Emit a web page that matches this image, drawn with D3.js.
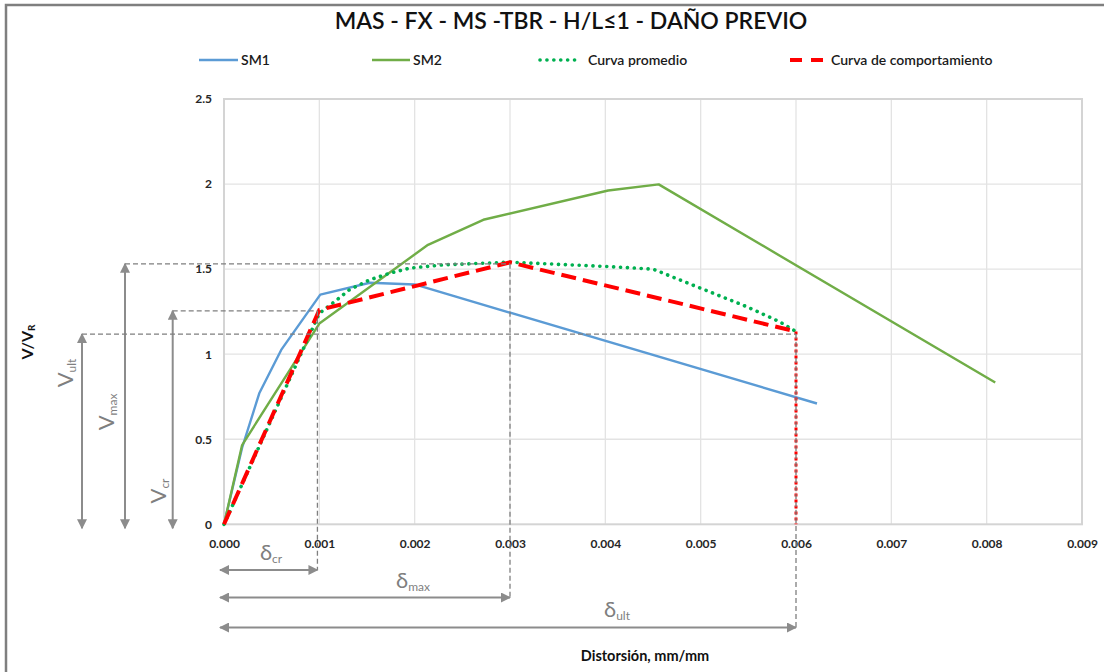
<!DOCTYPE html>
<html>
<head>
<meta charset="utf-8">
<script src="https://cdn.jsdelivr.net/npm/d3@7"></script>
<style>
  body { margin: 0; background: #fff; }
  svg { display: block; }
  text { font-family: Lato, "Noto Sans", sans-serif; }
</style>
</head>
<body>
<svg id="chart" width="1104" height="672"></svg>
<script>
// ---- data ----
const chartTitle = "MAS - FX - MS -TBR - H/L≤1 - DAÑO PREVIO";
const xAxisTitle = "Distorsión, mm/mm";
const seriesNames = ["SM1", "SM2", "Curva promedio", "Curva de comportamiento"];
const xTicks = [0, 0.001, 0.002, 0.003, 0.004, 0.005, 0.006, 0.007, 0.008, 0.009];
const yTicks = [0, 0.5, 1, 1.5, 2, 2.5];

const sm1X = [0, 0.00019, 0.00037, 0.0006, 0.00101, 0.00153, 0.002, 0.00622];
const sm1Y = [0, 0.45, 0.77, 1.025, 1.35, 1.42, 1.41, 0.71];

const sm2X = [0, 0.00019, 0.001, 0.00214, 0.00272, 0.00403, 0.00456, 0.00809];
const sm2Y = [0, 0.466, 1.18, 1.643, 1.79, 1.962, 1.998, 0.833];

const promX = [0, 0.001, 0.00114, 0.00132, 0.00153, 0.00174, 0.00195, 0.0023, 0.003, 0.00403, 0.0045, 0.00478, 0.00548, 0.00583, 0.006];
const promY = [0, 1.24, 1.30, 1.38, 1.437, 1.476, 1.506, 1.525, 1.541, 1.515, 1.50, 1.437, 1.28, 1.19, 1.133];

// behaviour curve: cracking, maximum, ultimate, then drop to zero
const compX = [0, 0.001, 0.003, 0.006, 0.006];
const compY = [0, 1.26, 1.54, 1.133, 0];

// reference levels marked with dimension arrows
const refNames = ["cr", "max", "ult"];
const refV = [1.255, 1.531, 1.118];
const refDelta = [0.00098, 0.003, 0.006];

// ---- layout ----
const svg = d3.select("#chart");
const W = 1104, H = 672;
const plot = { left: 224, right: 1082, top: 99, bottom: 524.3 };

const x = d3.scaleLinear().domain([0, 0.009]).range([plot.left, plot.right]);
const y = d3.scaleLinear().domain([0, 2.5]).range([plot.bottom, plot.top]);

const grey = "#7f7f7f";
const arrowGrey = "#8c8c8c";

svg.append("rect").attr("width", W).attr("height", H).attr("fill", "#fff");

// outer chart frame (runs off the right/bottom edge)
svg.append("rect")
  .attr("x", 6).attr("y", 5).attr("width", W + 20).attr("height", H + 20)
  .attr("fill", "none").attr("stroke", "#7f7f7f").attr("stroke-width", 2.5);

// arrow heads
const defs = svg.append("defs");
function marker(id, orient) {
  defs.append("marker")
    .attr("id", id).attr("viewBox", "0 0 10 10")
    .attr("refX", 9).attr("refY", 5)
    .attr("markerUnits", "userSpaceOnUse")
    .attr("markerWidth", 11).attr("markerHeight", 10)
    .attr("orient", orient)
    .append("path").attr("d", "M0,0 L10,5 L0,10 Z").attr("fill", arrowGrey);
}
marker("arrowEnd", "auto");
marker("arrowStart", "auto-start-reverse");

// ---- gridlines ----
const grid = svg.append("g");
grid.selectAll("line.vx").data(xTicks.slice(1, -1)).join("line")
  .attr("x1", d => x(d)).attr("x2", d => x(d))
  .attr("y1", plot.top).attr("y2", plot.bottom)
  .attr("stroke", "#e3e3e3").attr("stroke-width", 1.3);
grid.selectAll("line.hy").data(yTicks.slice(1, -1)).join("line")
  .attr("x1", plot.left).attr("x2", plot.right)
  .attr("y1", d => y(d)).attr("y2", d => y(d))
  .attr("stroke", "#e3e3e3").attr("stroke-width", 1.3);

// plot area border
svg.append("rect")
  .attr("x", plot.left).attr("y", plot.top)
  .attr("width", plot.right - plot.left).attr("height", plot.bottom - plot.top)
  .attr("fill", "none").attr("stroke", "#d4d4d4").attr("stroke-width", 2);

// ---- axes ----
const xAxis = svg.append("g")
  .attr("transform", `translate(0,${plot.bottom})`)
  .call(d3.axisBottom(x).tickValues(xTicks).tickFormat(d3.format(".3f")).tickSize(0).tickPadding(15));
const yAxis = svg.append("g")
  .attr("transform", `translate(${plot.left},0)`)
  .call(d3.axisLeft(y).tickValues(yTicks).tickFormat(d => String(d)).tickSize(0).tickPadding(12));
[xAxis, yAxis].forEach(a => {
  a.select(".domain").remove();
  a.selectAll("text")
    .style("font-family", "Lato, 'Noto Sans', sans-serif")
    .style("font-size", "12px").style("font-weight", "bold").attr("fill", "#262626");
});

// ---- series ----
const line = d3.line().x(d => x(d[0])).y(d => y(d[1]));
const zip = (xs, ys) => xs.map((v, i) => [v, ys[i]]);

svg.append("path").datum(zip(sm1X, sm1Y)).attr("d", line)
  .attr("fill", "none").attr("stroke", "#5b9bd5").attr("stroke-width", 2.4).attr("stroke-linejoin", "round");
svg.append("path").datum(zip(sm2X, sm2Y)).attr("d", line)
  .attr("fill", "none").attr("stroke", "#70ad47").attr("stroke-width", 2.4).attr("stroke-linejoin", "round");
svg.append("path").datum(zip(promX, promY)).attr("d", line)
  .attr("fill", "none").attr("stroke", "#00b050").attr("stroke-width", 3.6)
  .attr("stroke-dasharray", "0.1,6.8").attr("stroke-linecap", "round");

const comp = zip(compX, compY);
svg.append("path").datum(comp.slice(0, 4)).attr("d", line)
  .attr("fill", "none").attr("stroke", "#ff0000").attr("stroke-width", 4)
  .attr("stroke-dasharray", "15,7");
svg.append("path").datum(comp.slice(3)).attr("d", line)
  .attr("fill", "none").attr("stroke", "#ff0000").attr("stroke-width", 3)
  .attr("stroke-dasharray", "3,3");

// ---- dimension annotations ----
const ann = svg.append("g");
const vArrowX = [172.7, 125, 82];      // cr, max, ult
const hArrowY = [570, 597.5, 627.5];   // cr, max, ult
const arrowLeft = x(0) - 4;
const arrowBottom = y(0) + 4;

refNames.forEach((name, i) => {
  const yy = y(refV[i]);
  const xx = x(refDelta[i]);
  // horizontal reference at the level
  ann.append("line")
    .attr("x1", vArrowX[i]).attr("x2", xx).attr("y1", yy).attr("y2", yy)
    .attr("stroke", grey).attr("stroke-width", 1.3).attr("stroke-dasharray", "5,3");
  // vertical reference down to its arrow
  ann.append("line")
    .attr("x1", xx).attr("x2", xx).attr("y1", yy).attr("y2", hArrowY[i])
    .attr("stroke", grey).attr("stroke-width", 1.3).attr("stroke-dasharray", "5,3");
  // vertical dimension arrow
  ann.append("line")
    .attr("x1", vArrowX[i]).attr("x2", vArrowX[i]).attr("y1", yy).attr("y2", arrowBottom)
    .attr("stroke", arrowGrey).attr("stroke-width", 2)
    .attr("marker-start", "url(#arrowStart)").attr("marker-end", "url(#arrowEnd)");
  // horizontal dimension arrow
  ann.append("line")
    .attr("x1", arrowLeft).attr("x2", xx).attr("y1", hArrowY[i]).attr("y2", hArrowY[i])
    .attr("stroke", arrowGrey).attr("stroke-width", 2)
    .attr("marker-start", "url(#arrowStart)").attr("marker-end", "url(#arrowEnd)");
});

// V labels (rotated) and delta labels
const vLabelPos = [[166, 491], [114, 412], [72.5, 373]];
const dLabelPos = [[271, 560], [413, 588], [617, 617]];
function subLabel(g, main, sub) {
  const t = g.append("text").attr("fill", grey).style("font-size", "22px");
  t.append("tspan").text(main);
  t.append("tspan").text(sub).style("font-size", "12px").attr("dy", 3);
  return t;
}
refNames.forEach((name, i) => {
  const gv = ann.append("g")
    .attr("transform", `translate(${vLabelPos[i][0]},${vLabelPos[i][1]}) rotate(-90)`);
  subLabel(gv, "V", name).attr("text-anchor", "middle");
  const gd = ann.append("g").attr("transform", `translate(${dLabelPos[i][0]},${dLabelPos[i][1]})`);
  subLabel(gd, "δ", name).attr("text-anchor", "middle");
});

// ---- titles ----
svg.append("text").attr("x", 571).attr("y", 29).attr("text-anchor", "middle")
  .style("font-size", "23px").style("font-weight", "600").attr("fill", "#111")
  .text(chartTitle);

const yt = svg.append("text")
  .attr("transform", "translate(33,342) rotate(-90)")
  .attr("text-anchor", "middle").attr("fill", "#111")
  .style("font-size", "16px").style("font-weight", "bold");
yt.append("tspan").text("V/V");
yt.append("tspan").text("R").style("font-size", "10px").attr("dy", 2);

svg.append("text").attr("x", 645).attr("y", 661).attr("text-anchor", "middle")
  .style("font-size", "14.5px").style("font-weight", "bold").attr("fill", "#111")
  .text(xAxisTitle);

// ---- legend ----
const legendY = 60;
const legendItems = [
  { name: seriesNames[0], x0: 199, x1: 238, tx: 241, stroke: "#5b9bd5", w: 2.4, dash: null, cap: "butt" },
  { name: seriesNames[1], x0: 372, x1: 410, tx: 413, stroke: "#70ad47", w: 2.4, dash: null, cap: "butt" },
  { name: seriesNames[2], x0: 540, x1: 576, tx: 588, stroke: "#00b050", w: 3.6, dash: "0.1,6.8", cap: "round" },
  { name: seriesNames[3], x0: 790, x1: 823, tx: 831, stroke: "#ff0000", w: 4, dash: "12,9", cap: "butt" }
];
const lg = svg.append("g");
legendItems.forEach(it => {
  lg.append("line").attr("x1", it.x0).attr("x2", it.x1).attr("y1", legendY).attr("y2", legendY)
    .attr("stroke", it.stroke).attr("stroke-width", it.w)
    .attr("stroke-dasharray", it.dash).attr("stroke-linecap", it.cap);
  lg.append("text").attr("x", it.tx).attr("y", legendY + 5)
    .style("font-size", "14px").style("font-weight", "600").attr("fill", "#1a1a1a")
    .text(it.name);
});
</script>
</body>
</html>
